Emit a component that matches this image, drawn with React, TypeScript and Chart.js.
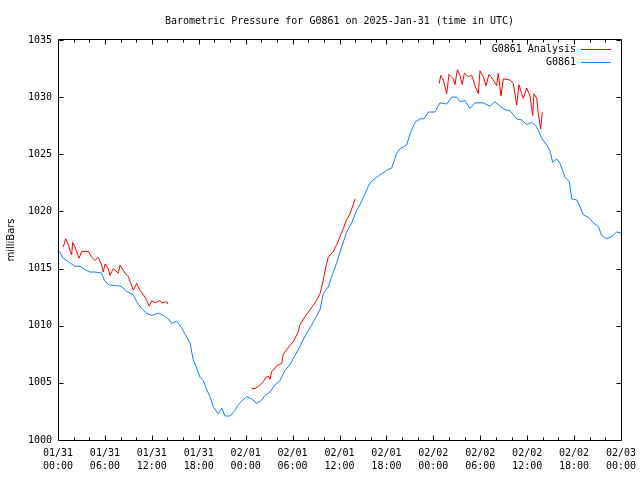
import React, { useEffect, useRef } from 'react';
import { Chart, registerables } from 'chart.js';

Chart.register(...registerables);

const TITLE = 'Barometric Pressure for G0861 on 2025-Jan-31 (time in UTC)';
const Y_LABEL = 'milliBars';
const STATION_LABEL = 'G0861';
const ANALYSIS_LABEL = 'G0861 Analysis';

// x tick labels every 6 hours from 01/31 00:00 to 02/03 00:00
const X_TICK_HOURS = [0, 6, 12, 18, 24, 30, 36, 42, 48, 54, 60, 66, 72];
const X_TICK_DATES = ['01/31', '01/31', '01/31', '01/31', '02/01', '02/01', '02/01', '02/01', '02/02', '02/02', '02/02', '02/02', '02/03'];
const X_TICK_TIMES = ['00:00', '06:00', '12:00', '18:00', '00:00', '06:00', '12:00', '18:00', '00:00', '06:00', '12:00', '18:00', '00:00'];
const Y_MIN = 1000;
const Y_MAX = 1035;
const Y_STEP = 5;

// Station observations (hours since 01/31 00:00 UTC, mb)
const stationHours = [
  0, 0.26, 0.68, 1.32, 2.17, 2.81, 3.45, 4.09, 4.73, 5.59,
  5.92, 6.43, 7.07, 7.71, 8.15, 8.79, 9.63, 10.06, 10.7, 11.34,
  11.98, 12.83, 13.47, 14.11, 14.54, 15.18, 15.82, 16.46, 16.88, 17.3,
  17.74, 18.16, 18.58, 19.02, 19.44, 19.86, 20.5, 20.94, 21.36, 22.0,
  22.64, 23.06, 23.49, 24.13, 24.77, 25.41, 26.05, 26.47, 27.11, 27.75,
  28.39, 29.03, 29.67, 30.31, 30.95, 31.59, 32.23, 32.87, 33.51, 33.93,
  34.57, 35.0, 35.64, 36.28, 36.92, 37.56, 38.2, 38.62, 39.04, 39.68,
  39.9, 40.76, 41.18, 42.04, 42.68, 43.32, 43.74, 44.59, 45.02, 45.66,
  46.3, 46.81, 47.36, 48.21, 48.85, 49.71, 50.35, 50.99, 51.41, 52.05,
  52.69, 53.33, 54.39, 55.25, 55.89, 56.53, 57.17, 57.81, 58.66, 59.3,
  59.94, 60.58, 61.22, 61.86, 62.5, 62.92, 63.26, 63.77, 64.2, 64.84,
  65.39, 65.7, 66.34, 66.76, 67.19, 67.82, 68.46, 69.1, 69.53, 70.17,
  70.81, 71.45, 72.0,
];
const stationValues = [
  1016.6, 1016.4, 1015.9, 1015.6, 1015.2, 1015.2, 1014.9, 1014.7, 1014.7, 1014.6,
  1014.0, 1013.6, 1013.5, 1013.5, 1013.4, 1013.0, 1012.7, 1012.1, 1011.5, 1011.1,
  1010.9, 1011.1, 1010.9, 1010.6, 1010.2, 1010.4, 1009.8, 1009.0, 1008.5, 1007.0,
  1006.3, 1005.5, 1005.2, 1004.4, 1003.8, 1002.9, 1002.3, 1002.8, 1002.1, 1002.1,
  1002.6, 1003.1, 1003.4, 1003.8, 1003.6, 1003.2, 1003.5, 1003.9, 1004.2, 1004.8,
  1005.2, 1006.1, 1006.6, 1007.4, 1008.2, 1009.1, 1009.8, 1010.6, 1011.4, 1012.8,
  1013.4, 1014.3, 1015.5, 1016.9, 1018.2, 1019.0, 1020.1, 1020.6, 1021.2, 1022.2,
  1022.5, 1023.0, 1023.2, 1023.6, 1023.8, 1025.1, 1025.5, 1025.8, 1026.8, 1027.8,
  1028.1, 1028.1, 1028.7, 1028.7, 1029.5, 1029.4, 1030.0, 1030.0, 1029.6, 1029.7,
  1029.0, 1029.5, 1029.5, 1029.2, 1029.6, 1029.2, 1028.9, 1028.8, 1028.1, 1028.0,
  1027.6, 1027.8, 1027.4, 1026.4, 1025.8, 1025.3, 1024.3, 1024.6, 1024.2, 1023.0,
  1022.6, 1021.1, 1021.0, 1020.4, 1019.7, 1019.5, 1019.0, 1018.7, 1017.9, 1017.6,
  1017.8, 1018.2, 1018.1,
];

// Analysis segments
const analysisHours1 = [0.68, 0.98, 1.32, 1.53, 1.75, 1.88, 2.17, 2.69, 3.03, 3.88, 4.31, 4.73, 5.15, 5.59, 5.79, 6.01, 6.43, 6.65, 7.07, 7.71, 7.93, 8.57, 8.99, 9.63, 10.06, 10.49, 11.13, 11.68, 11.98, 12.41, 13.05, 13.27, 13.91, 14.04];
const analysisValues1 = [1016.9, 1017.6, 1017.1, 1016.6, 1016.2, 1017.3, 1016.9, 1015.9, 1016.5, 1016.5, 1016.0, 1015.7, 1016.0, 1015.3, 1014.7, 1015.4, 1015.0, 1014.4, 1015.0, 1014.6, 1015.3, 1014.6, 1014.3, 1013.1, 1013.7, 1013.1, 1012.5, 1011.7, 1012.2, 1012.0, 1012.2, 1012.0, 1012.1, 1011.9];
const analysisHours2 = [24.77, 25.19, 25.62, 25.84, 26.26, 26.47, 26.69, 26.89, 27.11, 27.33, 27.53, 27.97, 28.61, 28.81, 29.25, 29.67, 30.09, 30.53, 30.73, 30.95, 31.59, 32.23, 32.87, 33.51, 33.93, 34.27, 34.57, 35.21, 35.64, 36.06, 36.49, 36.92, 37.34, 37.76, 37.98];
const analysisValues2 = [1004.5, 1004.5, 1004.7, 1004.8, 1005.1, 1005.4, 1005.5, 1005.6, 1005.3, 1006.0, 1006.1, 1006.5, 1006.7, 1007.5, 1007.9, 1008.3, 1008.6, 1009.2, 1009.5, 1010.1, 1010.8, 1011.4, 1012.0, 1012.8, 1014.0, 1015.2, 1016.0, 1016.5, 1017.1, 1017.8, 1018.5, 1019.3, 1019.8, 1020.6, 1021.1];
const analysisHours3 = [48.76, 48.94, 49.27, 49.71, 50.0, 50.55, 50.77, 51.07, 51.41, 51.7, 51.96, 52.47, 52.91, 53.33, 53.75, 53.97, 54.39, 54.74, 55.12, 55.67, 56.1, 56.31, 56.65, 56.95, 57.81, 58.23, 58.66, 58.95, 59.3, 59.5, 59.94, 60.36, 60.71, 60.87, 61.22, 61.43, 61.73, 61.94];
const analysisValues3 = [1031.2, 1031.9, 1031.5, 1030.3, 1032.0, 1031.6, 1031.1, 1032.4, 1031.9, 1031.1, 1032.1, 1031.8, 1031.9, 1031.0, 1030.3, 1032.3, 1031.8, 1031.0, 1032.0, 1031.5, 1031.0, 1032.1, 1030.1, 1031.6, 1031.5, 1031.2, 1029.3, 1031.1, 1030.3, 1029.9, 1030.8, 1030.1, 1028.4, 1030.3, 1029.9, 1028.5, 1027.2, 1028.7];

const MONO = '"DejaVu Sans Mono", "Liberation Mono", monospace';
const SANS = '"DejaVu Sans", sans-serif';
const RED = '#ff0000';
const BLUE = '#0a80ff';

function toPoints(hours: number[], values: number[]) {
  return hours.map((h, i) => ({ x: h, y: values[i] }));
}

function joinSegments(segs: { x: number; y: number | null }[][]) {
  const out: { x: number; y: number | null }[] = [];
  segs.forEach((s, i) => {
    if (i > 0) out.push({ x: (out[out.length - 1].x + s[0].x) / 2, y: null });
    out.push(...s);
  });
  return out;
}

const gnuplotFrame = {
  id: 'gnuplotFrame',
  afterDraw(chart: any) {
    const { ctx, chartArea: a, scales } = chart;
    const L = Math.round(a.left) + 0.5;
    const R = Math.round(a.right) + 0.5;
    const T = Math.round(a.top) - 0.5;
    const B = Math.round(a.bottom) + 0.5;
    ctx.save();
    ctx.strokeStyle = '#000';
    ctx.lineWidth = 1;
    ctx.beginPath();
    ctx.rect(L, T, R - L, B - T);
    ctx.stroke();
    ctx.beginPath();
    scales.x.ticks.forEach((t: any) => {
      const px = Math.round(scales.x.getPixelForValue(t.value)) + 0.5;
      const len = t.value % 6 === 0 ? 5 : 3;
      ctx.moveTo(px, B);
      ctx.lineTo(px, B - len);
      ctx.moveTo(px, T);
      ctx.lineTo(px, T + len);
    });
    scales.y.ticks.forEach((t: any) => {
      const py = Math.round(scales.y.getPixelForValue(t.value)) + 0.5;
      ctx.moveTo(L, py);
      ctx.lineTo(L + 5, py);
      ctx.moveTo(R, py);
      ctx.lineTo(R - 5, py);
    });
    ctx.stroke();
    // legend (gnuplot style: text then line sample, right-aligned)
    ctx.font = `10px ${MONO}`;
    ctx.textAlign = 'right';
    ctx.textBaseline = 'middle';
    chart.data.datasets.forEach((ds: any, i: number) => {
      const y = Math.round(a.top) + 9 + i * 13;
      ctx.fillStyle = '#000';
      ctx.fillText(ds.label, Math.round(R) - 46, y);
      ctx.fillStyle = ds.borderColor;
      ctx.fillRect(Math.round(R) - 41, y, 30, 1);
    });
    ctx.restore();
  },
};

export default function App() {
  const ref = useRef<HTMLCanvasElement | null>(null);
  useEffect(() => {
    if (!ref.current) return;
    const analysis = joinSegments([
      toPoints(analysisHours1, analysisValues1),
      toPoints(analysisHours2, analysisValues2),
      toPoints(analysisHours3, analysisValues3),
    ]);
    const chart = new Chart(ref.current, {
      type: 'line',
      data: {
        datasets: [
          {
            label: ANALYSIS_LABEL,
            data: analysis,
            borderColor: RED,
            backgroundColor: RED,
            borderWidth: 1,
            pointRadius: 0,
            tension: 0,
            spanGaps: false,
          },
          {
            label: STATION_LABEL,
            data: toPoints(stationHours, stationValues),
            borderColor: BLUE,
            backgroundColor: BLUE,
            borderWidth: 1,
            pointRadius: 0,
            tension: 0,
          },
        ],
      },
      options: {
        responsive: false,
        animation: false,
        devicePixelRatio: 1,
        layout: { padding: { left: 0, right: 19, top: 0, bottom: 0 } },
        plugins: {
          legend: { display: false },
          tooltip: { enabled: false },
          title: {
            display: true,
            text: TITLE,
            color: '#000',
            fullSize: false,
            font: { family: MONO, size: 10, weight: 'normal', lineHeight: 1.2 },
            padding: { top: 15, bottom: 13 },
          },
        },
        scales: {
          x: {
            type: 'linear',
            min: 0,
            max: 72,
            grid: { display: false, drawTicks: false },
            border: { display: false },
            afterFit: (s: any) => {
              s.height = 40;
              s.paddingLeft = 0;
              s.paddingRight = 0;
            },
            ticks: {
              stepSize: 2,
              autoSkip: false,
              maxRotation: 0,
              minRotation: 0,
              padding: 7,
              color: '#000',
              font: { family: MONO, size: 10, lineHeight: 1.3 },
              callback: (v: any) => {
                const i = X_TICK_HOURS.indexOf(Number(v));
                return i >= 0 ? [X_TICK_DATES[i], X_TICK_TIMES[i]] : '';
              },
            },
          },
          y: {
            type: 'linear',
            min: Y_MIN,
            max: Y_MAX,
            grid: { display: false, drawTicks: false },
            border: { display: false },
            afterFit: (s: any) => {
              s.width = 58;
              s.paddingTop = 0;
              s.paddingBottom = 0;
            },
            title: {
              display: true,
              text: Y_LABEL,
              color: '#000',
              font: { family: SANS, size: 10, lineHeight: 1.2 },
              padding: { top: 5, bottom: 0 },
            },
            ticks: {
              stepSize: Y_STEP,
              padding: 6,
              color: '#000',
              font: { family: MONO, size: 10 },
              callback: (v: any) => String(v),
            },
          },
        },
      },
      plugins: [gnuplotFrame],
    } as any);
    return () => chart.destroy();
  }, []);
  return (
    <div style={{ position: 'fixed', left: 0, top: 0, width: 640, height: 480, background: '#fff' }}>
      <canvas ref={ref} width={640} height={480} style={{ display: 'block' }} />
    </div>
  );
}
